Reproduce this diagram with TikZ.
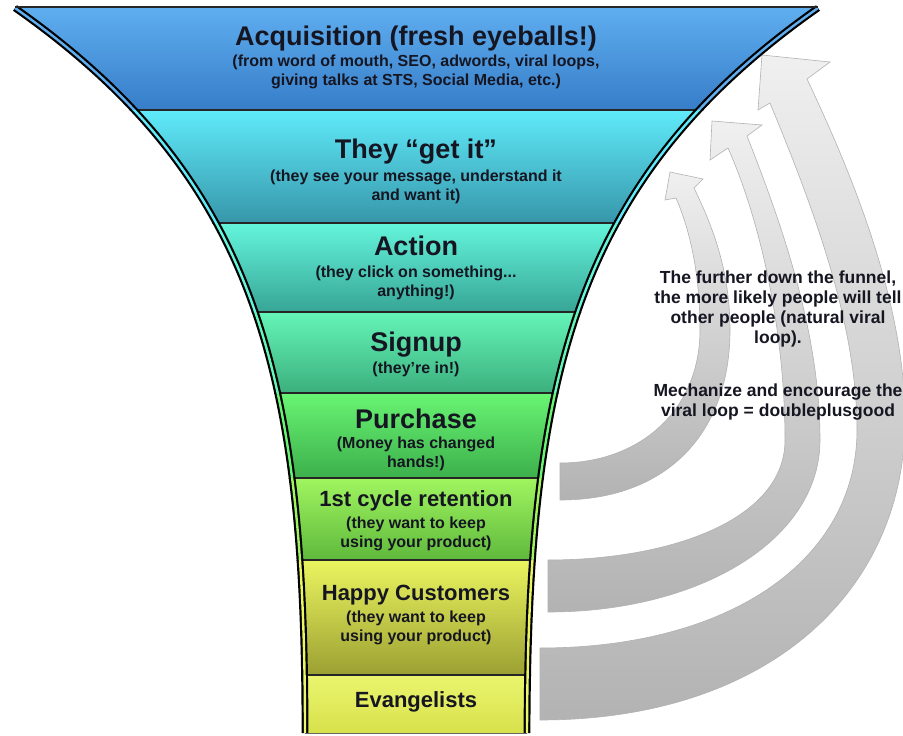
\documentclass[tikz,border=0pt]{standalone}
\usepackage{fontspec}
\setmainfont{Liberation Sans}

\definecolor{ink}{RGB}{22,22,34}
\definecolor{acqtop}{RGB}{95,175,240}
\definecolor{acqbot}{RGB}{55,125,200}
\definecolor{gettop}{RGB}{95,235,250}
\definecolor{getbot}{RGB}{55,150,170}
\definecolor{acttop}{RGB}{100,245,220}
\definecolor{actbot}{RGB}{55,165,150}
\definecolor{sigtop}{RGB}{100,245,185}
\definecolor{sigbot}{RGB}{60,175,125}
\definecolor{purtop}{RGB}{105,245,115}
\definecolor{purbot}{RGB}{60,175,75}
\definecolor{rettop}{RGB}{160,245,95}
\definecolor{retbot}{RGB}{95,185,60}
\definecolor{haptop}{RGB}{235,245,95}
\definecolor{hapbot}{RGB}{155,160,50}
\definecolor{evatop}{RGB}{235,245,110}
\definecolor{evabot}{RGB}{215,225,75}

\newcommand{\stagebig}{\fontsize{27}{30}\selectfont}
\newcommand{\stagemid}{\fontsize{22}{25}\selectfont}

\begin{document}
\begin{tikzpicture}[x=1pt, y=-1pt,
  stage/.style={align=center, text=ink, inner sep=0pt, font=\bfseries\fontsize{16}{19}\selectfont},
  note/.style={align=center, text=ink, inner sep=0pt, font=\bfseries\fontsize{17.5}{20}\selectfont},
  loop arrow/.style={draw=black!30, line width=0.6pt, top color=black!6, bottom color=black!30},
  wall/.style={line width=2.2pt, double distance=2.4pt},
  divider/.style={line width=2.2pt, draw=black!85}]

  \useasboundingbox (0,0) rectangle (903,736);
  \fill[white] (0,0) rectangle (903,736);

  % viral loop arrows
  \draw[loop arrow] (560,500) .. controls (670,500) and (730,430) .. (730,330)
    .. controls (730,270) and (712,225) .. (694,188) -- (703,179) -- (670,172) -- (665,200) -- (676,198)
    .. controls (692,235) and (700,280) .. (700,330) .. controls (700,410) and (640,463) .. (560,463) -- cycle;
  \draw[loop arrow] (548,612) .. controls (700,612) and (820,540) .. (820,440)
    .. controls (820,330) and (780,220) .. (747,136) -- (762,125) -- (712,121) -- (710,160) -- (728,148)
    .. controls (760,220) and (785,330) .. (785,440) .. controls (785,520) and (670,560) .. (548,560) -- cycle;
  \draw[loop arrow] (540,720) .. controls (770,720) and (905,590) .. (905,420)
    .. controls (905,300) and (850,170) .. (807,79) -- (830,62) -- (762,55) -- (758,110) -- (770,103)
    .. controls (810,200) and (857,320) .. (857,430) .. controls (857,560) and (730,648) .. (540,648) -- cycle;

  % funnel bands
  \begin{scope}
    \clip (15,8) .. controls (260,180) and (305,380) .. (305,733) -- (527,733)
      .. controls (528,380) and (573,180) .. (818,8) -- cycle;
    \foreach \ya/\yb/\ct/\cb in {6/110/acqtop/acqbot, 110/223/gettop/getbot, 223/312/acttop/actbot,
        312/393/sigtop/sigbot, 393/478/purtop/purbot, 478/560/rettop/retbot,
        560/675/haptop/hapbot, 675/734/evatop/evabot}
      \fill[top color=\ct, bottom color=\cb] (0,\ya) rectangle (903,\yb);
    \foreach \yy in {110,223,312,393,478,560,675}
      \draw[divider] (0,\yy) -- (903,\yy);
  \end{scope}

  % funnel walls
  \foreach \ya/\yb/\cw in {0/110/acqtop, 110/223/gettop, 223/312/acttop, 312/393/sigtop,
      393/478/purtop, 478/560/rettop, 560/675/haptop, 675/736/evatop} {
    \begin{scope}
      \clip (0,\ya) rectangle (903,\yb);
      \draw[wall, double=\cw] (15,8) .. controls (260,180) and (305,380) .. (305,733);
      \draw[wall, double=\cw] (818,8) .. controls (573,180) and (528,380) .. (527,733);
    \end{scope}
  }
  \draw[line width=2pt, black!85] (15,7) -- (818,7);
  \draw[line width=1pt, black!60] (305,733) -- (527,733);

  \node[stage] (acquisition) at (416,57) {{\stagebig Acquisition (fresh eyeballs!)}\\[2pt]
    (from word of mouth, SEO, adwords, viral loops,\\giving talks at STS, Social Media, etc.)};
  \node[stage] (getit) at (416,171) {{\stagebig They “get it”}\\[4pt]
    (they see your message, understand it\\and want it)};
  \node[stage] (action) at (416,268) {{\stagebig Action}\\[3pt](they click on something...\\anything!)};
  \node[stage] (signup) at (416,354) {{\stagebig Signup}\\[3pt](they’re in!)};
  \node[stage] (purchase) at (416,440) {{\stagebig Purchase}\\[1pt](Money has changed\\hands!)};
  \node[stage] (retention) at (416,521) {{\stagemid 1st cycle retention}\\[3pt](they want to keep\\using your product)};
  \node[stage] (happy) at (416,615) {{\stagemid Happy Customers}\\[3pt](they want to keep\\using your product)};
  \node[stage] (evangelists) at (416,702) {\stagemid Evangelists};

  \node[note] (viral) at (778,346) {The further down the funnel,\\the more likely people will tell\\
    other people (natural viral\\loop).\\[33pt]Mechanize and encourage the\\viral loop = doubleplusgood};
\end{tikzpicture}
\end{document}
